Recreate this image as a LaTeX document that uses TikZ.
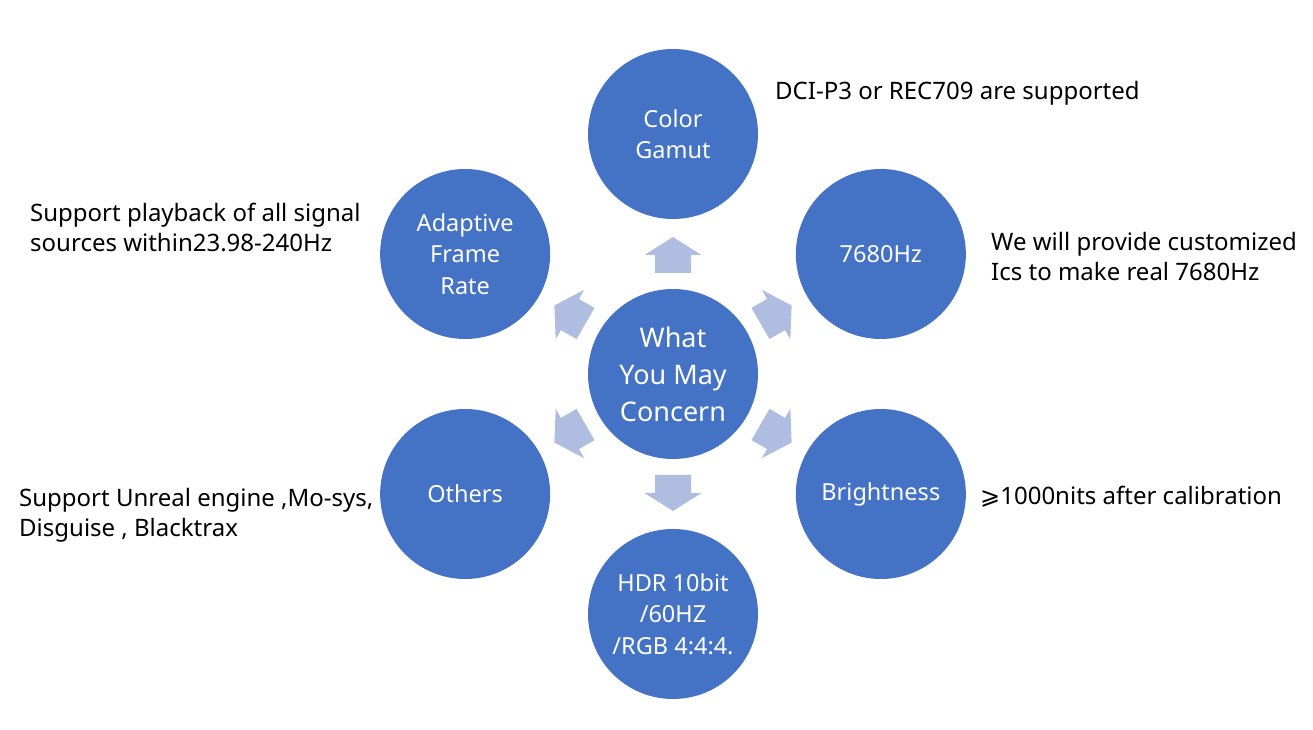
\documentclass[tikz,border=0pt]{standalone}
\usepackage{fontspec}
\setmainfont{Noto Sans}
\newfontfamily\symfont{DejaVu Sans}
\usetikzlibrary{calc}
\definecolor{discblue}{HTML}{4472C4}
\definecolor{arrowblue}{HTML}{AEBDE0}

\begin{document}
\begin{tikzpicture}[
  x=1pt, y=1pt,
  every node/.style={font=\fontsize{24}{30}\selectfont},
  disc/.style={circle, fill=discblue, minimum size=170pt, inner sep=0pt,
    text=white, align=center, font=\fontsize{23.5}{31.5}\selectfont},
  blockarr/.pic={
    \fill[arrowblue] (0, -18) -- (18, -18) -- (18, -28.5) -- (36, 0)
      -- (18, 28.5) -- (18, 18) -- (0, 18) -- cycle;
  },
  note/.style={align=left, anchor=west, inner sep=0pt, text=black},
]
\useasboundingbox (0, 0) rectangle (1313, 730);

% centre and the six topics around it
\node[disc, font=\fontsize{27}{37}\selectfont] (ctr) at (673, 356)
  {What\\You May\\Concern};
\node[disc] (gamut) at ($(ctr)+(90:240)$) {Color\\Gamut};
\node[disc] (hz) at ($(ctr)+(30:240)$) {7680Hz};
\node[disc] (bright) at ($(ctr)+(-30:240)$) {Brightness};
\node[disc] (hdr) at ($(ctr)+(-90:240)$) {HDR 10bit\\/60HZ\\/RGB 4:4:4.};
\node[disc] (others) at ($(ctr)+(-150:240)$) {Others};
\node[disc] (frame) at ($(ctr)+(150:240)$) {Adaptive\\Frame\\Rate};

% block arrows pointing outwards
\foreach \a/\n in {90/up, 30/ur, -30/dr, -90/dn, -150/dl, 150/ul}
  \pic[rotate=\a] (arr-\n) at ($(ctr)+(\a:101)$) {blockarr};

% notes
\node[note] (gamutnote) at (775, 637) {DCI-P3 or REC709 are supported};
\node[note] (hznote) at (991, 473)
  {We will provide customized\\Ics to make real 7680Hz};
\node[note] (brightnote) at (980, 233)
  {{\symfont ⩾}1000nits after calibration};
\node[note] (othersnote) at (19, 215)
  {Support Unreal engine ,Mo-sys,\\Disguise , Blacktrax};
\node[note] (framenote) at (30, 503)
  {Support playback of all signal\\sources within23.98-240Hz};
\end{tikzpicture}
\end{document}
